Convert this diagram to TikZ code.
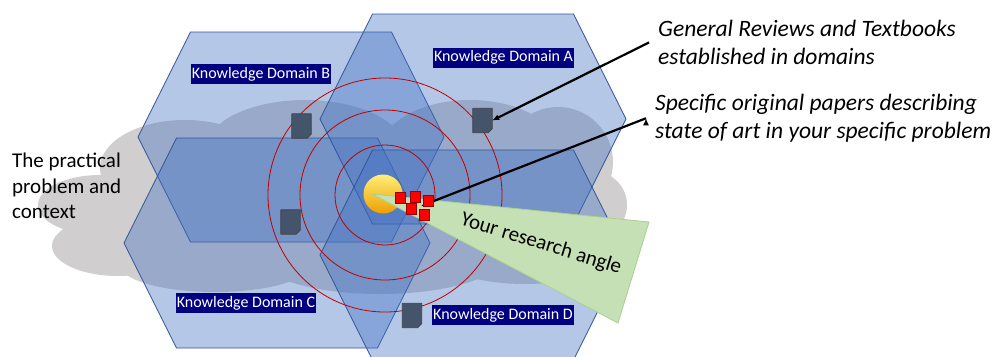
\documentclass[tikz,border=0pt]{standalone}
\usepackage{fontspec}
\setmainfont{Carlito}
\usetikzlibrary{arrows.meta}

\definecolor{hexblue}{RGB}{68,114,196}
\definecolor{hexline}{RGB}{47,85,151}
\definecolor{cloudgrey}{RGB}{208,206,206}
\definecolor{ringred}{RGB}{192,0,0}
\definecolor{wedgegreen}{RGB}{197,224,180}
\definecolor{wedgeline}{RGB}{169,209,142}
\definecolor{docslate}{RGB}{68,84,106}
\definecolor{labelnavy}{RGB}{0,0,128}
\definecolor{sunlight}{RGB}{255,238,120}
\definecolor{sunyellow}{RGB}{255,208,20}
\definecolor{sunorange}{RGB}{236,160,0}

\begin{document}
\begin{tikzpicture}[x=1pt, y=-1pt,
    hex/.style={draw=hexline, line width=0.7pt, fill=hexblue, fill opacity=0.4},
    ring/.style={draw=ringred, line width=0.8pt},
    domain label/.style={fill=labelnavy, text=white, font=\fontsize{16}{19}\selectfont,
                         inner xsep=1pt, inner ysep=2pt, text height=12pt, text depth=4pt},
    doc node/.style={minimum width=19pt, minimum height=24pt, inner sep=0pt},
    doc shape/.style={fill=docslate, draw=black!75, line width=0.7pt, line join=round},
    paper node/.style={fill=red, draw=red!60!black, line width=0.4pt,
                       minimum width=10pt, minimum height=11pt, inner sep=0pt},
    note node/.style={font=\fontsize{23.5}{28}\selectfont\itshape, align=left, inner sep=0pt},
    arrow line/.style={draw, line width=2.2pt, -{Latex[length=7pt,width=6pt]}}]

  \useasboundingbox (0,0) rectangle (992,356);

  % the practical problem (cloud of puffs)
  \fill[cloudgrey]
    (350,200) ellipse[x radius=230pt, y radius=75pt]
    (100,205) ellipse[x radius=62pt, y radius=30pt]
    (118,246) ellipse[x radius=66pt, y radius=30pt]
    (185,168) ellipse[x radius=85pt, y radius=48pt]
    (215,265) ellipse[x radius=95pt, y radius=27pt]
    (305,150) ellipse[x radius=100pt, y radius=50pt]
    (470,152) ellipse[x radius=90pt, y radius=52pt]
    (558,162) ellipse[x radius=55pt, y radius=55pt]
    (590,205) ellipse[x radius=37pt, y radius=35pt]
    (380,258) ellipse[x radius=120pt, y radius=36pt]
    (525,252) ellipse[x radius=90pt, y radius=32pt];
  \node[font=\fontsize{21}{25.5}\selectfont, align=left, anchor=north west, inner sep=0pt]
        (practice) at (12,153) {The practical\\problem and\\context};

  % knowledge domains
  \foreach \cx/\cy in {291/137, 277/243, 473/119, 473/255}
    \draw[hex] (\cx,\cy) ++(-153,0) -- ++(52.5,-105) -- ++(201,0) -- ++(52.5,105)
               -- ++(-52.5,105) -- ++(-201,0) -- cycle;

  \node[domain label] (domA) at (503.5,57.5) {Knowledge Domain A};
  \node[domain label] (domB) at (261,74) {Knowledge Domain B};
  \node[domain label] (domC) at (246,303) {Knowledge Domain C};
  \node[domain label] (domD) at (503,315) {Knowledge Domain D};

  % rings round the problem
  \foreach \r in {50,85,117}
    \draw[ring] (385,195) circle[radius=\r pt];

  \node[circle, minimum size=39pt, inner sep=0pt,
        top color=sunlight, middle color=sunyellow, bottom color=sunorange]
        (sun) at (383,194) {};

  % research angle
  \draw[fill=wedgegreen, draw=wedgeline, line width=0.8pt]
        (372,194) -- (649,222) -- (618,323) -- cycle;
  \node[rotate=-17, font=\fontsize{21}{25}\selectfont] (angle) at (541,244) {Your research angle};

  % literature
  \foreach \nm/\px/\py in {docB/301.5/126, docA/482.5/120.5, docC/290.5/222, docD/412/315.5} {
    \node[doc node] (\nm) at (\px,\py) {};
    \draw[doc shape] (\nm.north west) -- (\nm.north east) -- ([yshift=4pt]\nm.south east)
          -- ([xshift=-4pt]\nm.south east) -- (\nm.south west) -- cycle;
  }

  \node[note node, anchor=north west] (reviews) at (658,20)
        {General Reviews and Textbooks\\established in domains};
  \node[note node, anchor=north west] (papers) at (655,94)
        {Specific original papers describing\\state of art in your specific problem};

  \coordinate (hit) at (421,206);
  \path[arrow line] ([xshift=-9pt]reviews.west) edge (docA.east)
                    ([xshift=-9pt]papers.west) edge (hit);

  \foreach \n/\px/\py in {1/400/197.5, 2/415.5/196.5, 3/411/208.5, 4/428/200.5, 5/424/214.5}
    \node[paper node] (sq\n) at (\px,\py) {};

\end{tikzpicture}
\end{document}
